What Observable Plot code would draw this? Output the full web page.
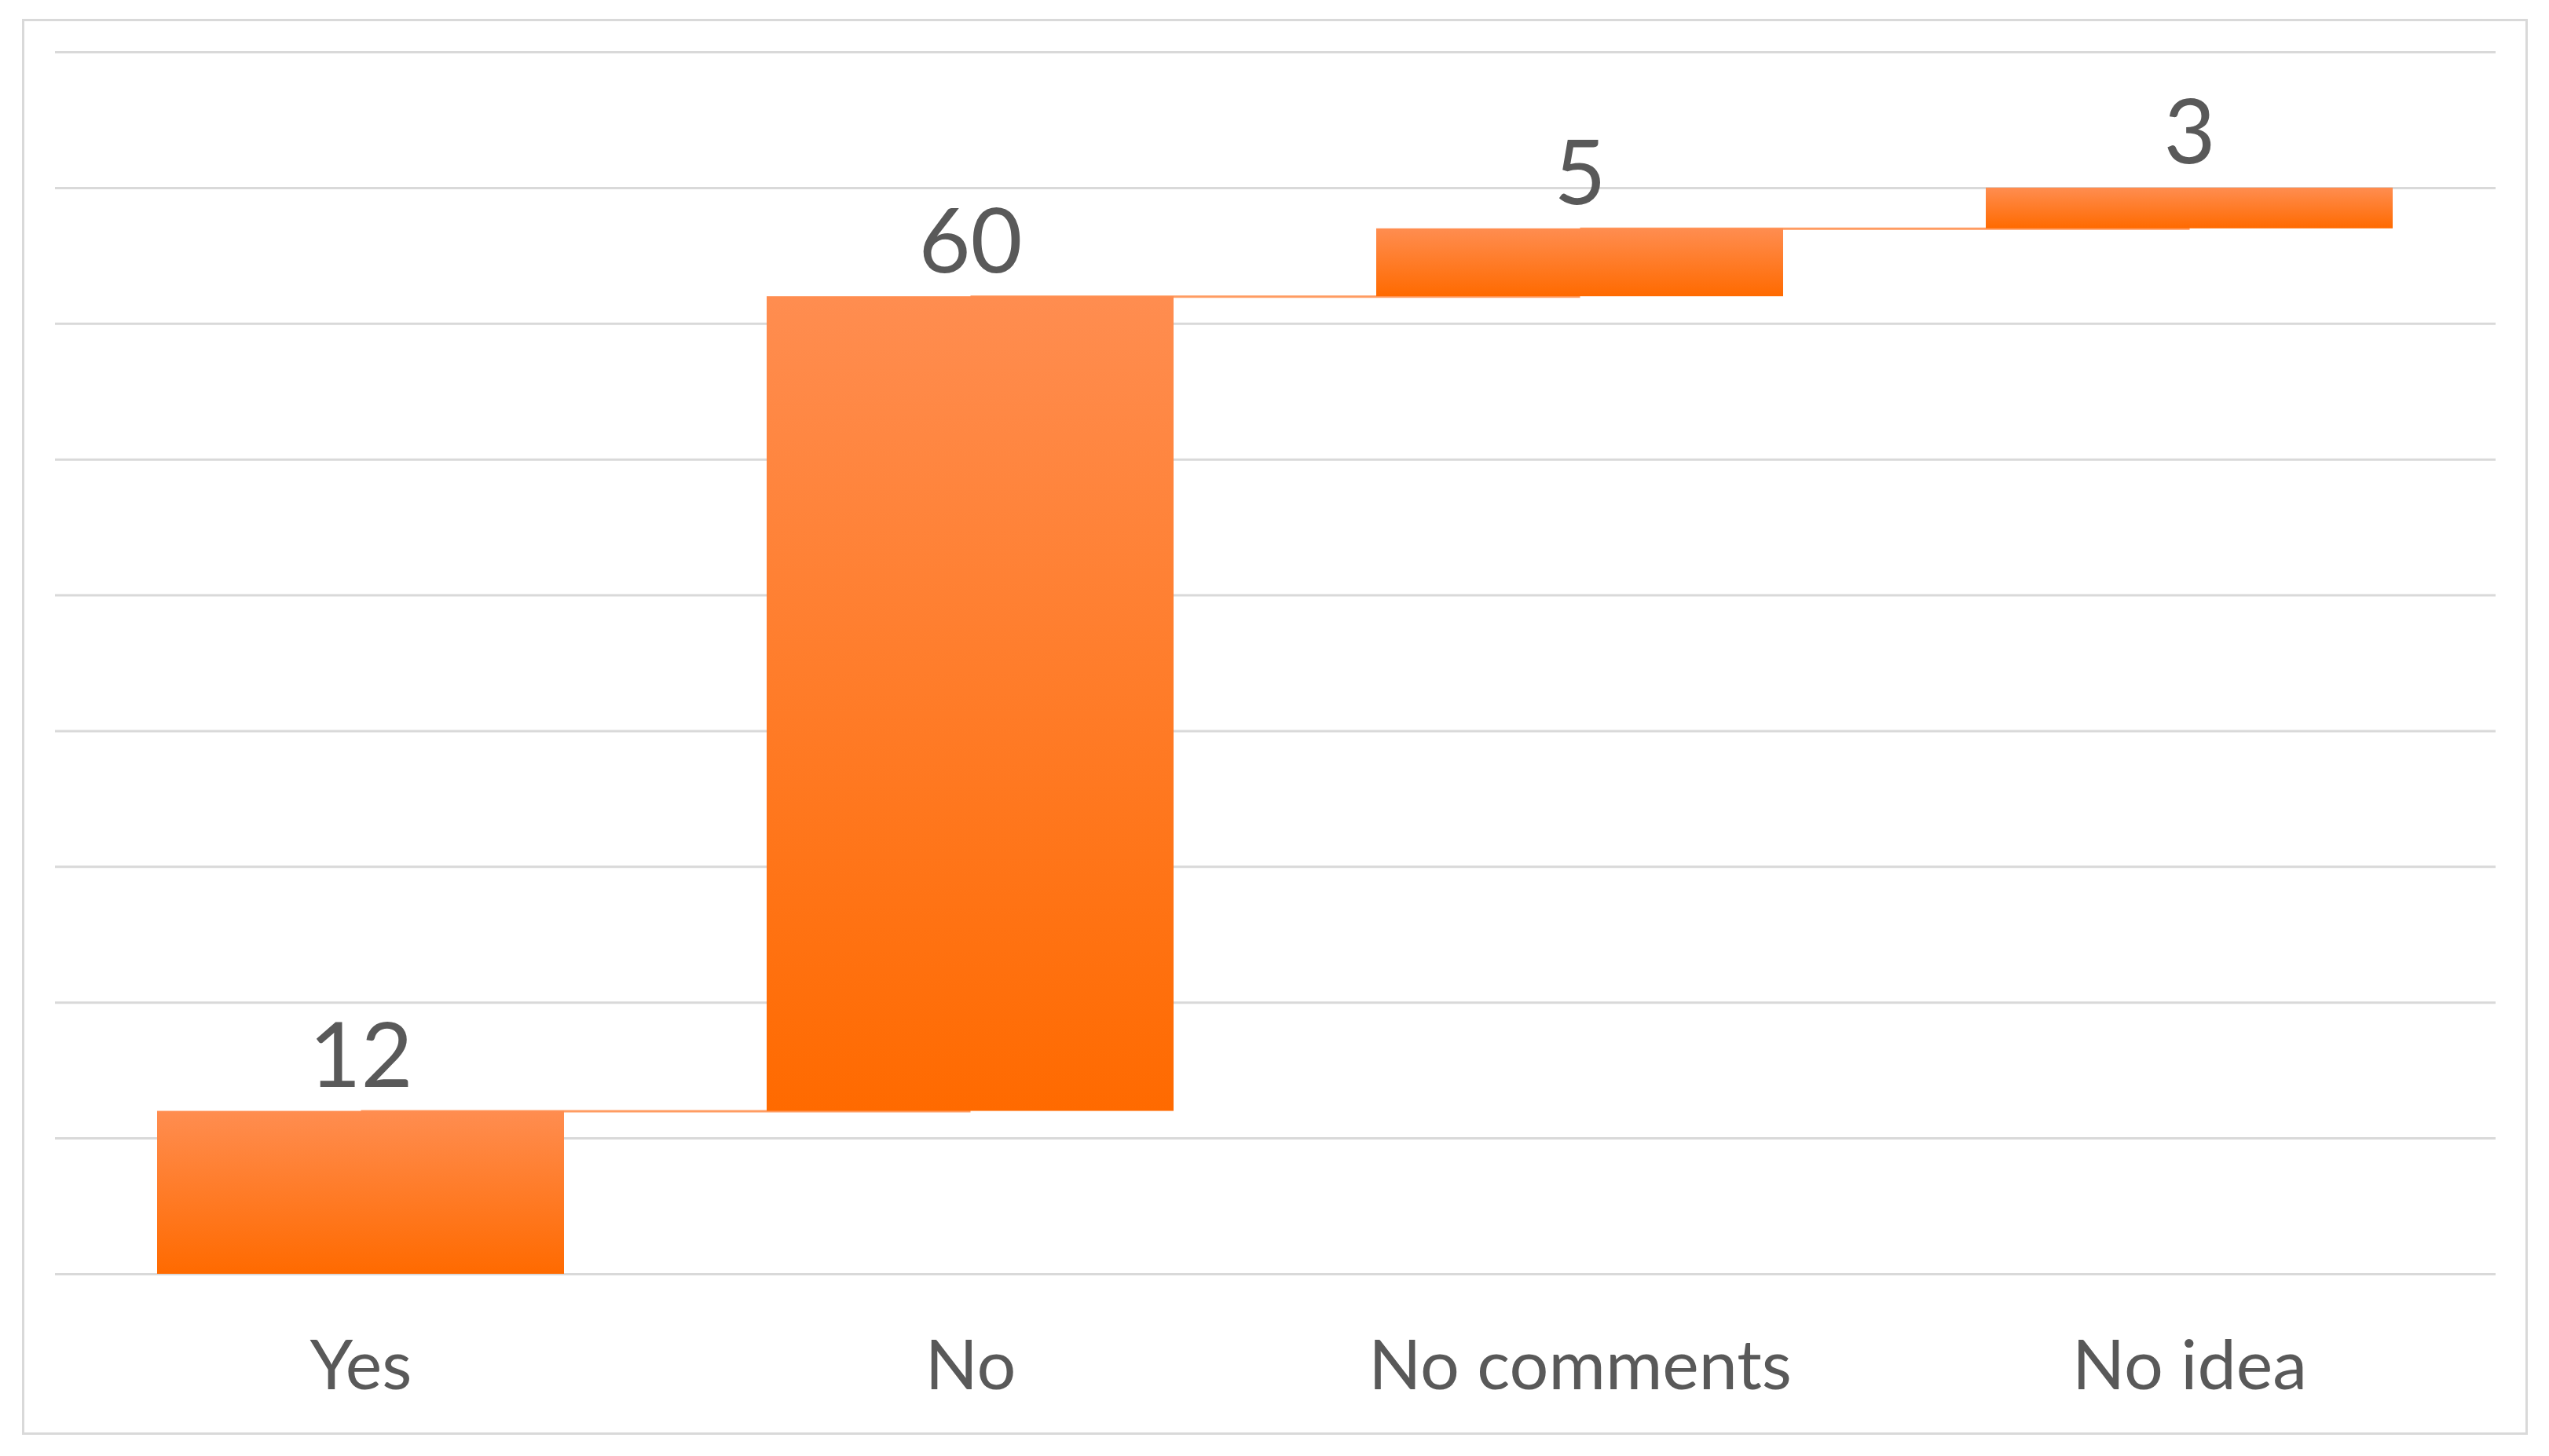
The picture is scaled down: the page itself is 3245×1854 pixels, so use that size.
<!DOCTYPE html>
<html>
<head>
<meta charset="utf-8">
<script src="https://cdn.jsdelivr.net/npm/d3@7"></script>
<script src="https://cdn.jsdelivr.net/npm/@observablehq/plot@0.6"></script>
<style>
  html, body { margin: 0; padding: 0; background: #ffffff; }
  #wrap { position: relative; width: 3245px; height: 1854px; overflow: hidden; }
  #frame { position: absolute; left: 28px; top: 24px; width: 3190px; height: 1803px; border: 3px solid #d9d9d9; box-sizing: border-box; }
  #chart { position: absolute; left: 0; top: 0; }
</style>
</head>
<body>
<div id="wrap"><div id="frame"></div><div id="chart"></div></div>
<script>
const categories = ["Yes", "No", "No comments", "No idea"];
const values = [12, 60, 5, 3];
const yTicks = [0, 10, 20, 30, 40, 50, 60, 70, 80, 90];

let cum = 0;
const rows = categories.map((c, i) => {
  const start = cum;
  cum += values[i];
  return {cat: c, value: values[i], start, end: cum};
});
const connectors = rows.slice(0, -1).map((r, i) => ({from: r.cat, to: rows[i + 1].cat, level: r.end}));

const svg = Plot.plot({
  width: 3245,
  height: 1854,
  marginLeft: 70,
  marginRight: 68,
  marginTop: 66,
  marginBottom: 232,
  style: {fontFamily: "Lato", color: "#595959", background: "transparent", overflow: "visible"},
  x: {domain: categories, paddingInner: 0.332, paddingOuter: 0.166, label: null},
  y: {domain: [0, 90], axis: null},
  marks: [
    Plot.gridY(yTicks, {stroke: "#d9d9d9", strokeOpacity: 1, strokeWidth: 3}),
    Plot.link(connectors, {x1: "from", x2: "to", y1: "level", y2: "level", stroke: "#ff9c62", strokeWidth: 3}),
    Plot.barY(rows, {x: "cat", y1: "start", y2: "end", fill: "url(#barGrad)"}),
    Plot.text(rows, {x: "cat", y: "end", text: d => String(d.value), lineAnchor: "bottom", dy: -31, fontSize: 114, fill: "#595959"}),
    Plot.axisX({tickSize: 0, tickPadding: 84, fontSize: 88, label: null, fill: "#595959"})
  ]
});
svg.insertAdjacentHTML("afterbegin",
  '<defs><linearGradient id="barGrad" x1="0" y1="0" x2="0" y2="1">' +
  '<stop offset="0%" stop-color="#ff8d50"/><stop offset="100%" stop-color="#ff6a00"/>' +
  '</linearGradient></defs>');
document.getElementById("chart").appendChild(svg);
</script>
</body>
</html>
